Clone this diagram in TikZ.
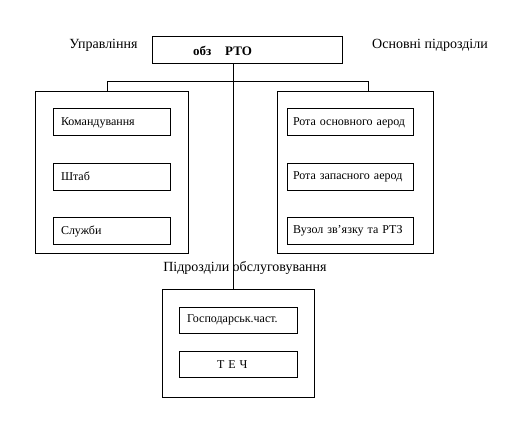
\documentclass[tikz,border=0pt]{standalone}
\usepackage{fontspec}
\setmainfont{Liberation Serif}
\usetikzlibrary{positioning}
\tikzset{
	grp/.style ={rectangle, draw=black, line width=1pt},
	head/.style={rectangle, draw=black, line width=1pt, minimum width=190pt, minimum height=27pt, text width=182pt, inner xsep=4pt, align=left, font=\fontsize{13}{15}\selectfont\bfseries},
	unit/.style={rectangle, draw=black, line width=1pt, minimum height=27pt, inner xsep=8pt, align=left, font=\fontsize{12}{14}\selectfont},
	lbl/.style ={inner sep=0pt, font=\fontsize{14}{16}\selectfont},
	wire/.style={line width=1pt}
}
\begin{document}
\begin{tikzpicture}[x=1pt, y=-1pt]
	\useasboundingbox (0,0) rectangle (512,428);
	% top
	\node[head] (obz) at (247,50.5) {\hspace*{37pt}обз\hspace{14pt}РТО};
	\node[lbl] (upr) at (103.5,45) {Управління};
	\node[lbl] (osn) at (430,45) {Основні підрозділи};
	% groups
	\node[grp, minimum width=153pt, minimum height=161pt] (ctl) at (111.5,172.5) {};
	\node[grp, minimum width=156pt, minimum height=161pt] (ctr) at (355,172.5) {};
	\node[grp, minimum width=152pt, minimum height=108pt] (low) at (238,343) {};
	\node[lbl] (obs) at (245,268) {Підрозділи обслуговування};
	% inner units
	\foreach \name/\y/\txt in {kom/122.5/Командування, sht/176.5/Штаб, slu/231/Служби}
		\node[unit, minimum width=117pt, text width=101pt] (\name) at (111.5,\y) {\txt};
	\foreach \name/\y/\txt in {rosn/122.5/Рота основного аерод, rzap/176.5/Рота запасного аерод, vuz/231/Вузол зв’язку та РТЗ}
		\node[unit, minimum width=126pt, inner xsep=6pt, text width=114pt] (\name) at (350,\y) {\txt};
	\node[unit, minimum width=118pt, minimum height=26pt, text width=102pt] (gos) at (238,320) {Господарськ.част.};
	\node[unit, minimum width=118pt, minimum height=26pt, text width=102pt] (tech) at (238,364.5) {\hspace*{30pt}Т Е Ч};
	% connectors
	\coordinate (trunk) at (233,64);
	\coordinate (brl) at (107,82);
	\coordinate (brr) at (368,82);
	\draw[wire] (trunk) -- (trunk |- low.north);
	\draw[wire] (brl |- ctl.north) -- (brl) -- (brr) -- (brr |- ctr.north);
\end{tikzpicture}
\end{document}
